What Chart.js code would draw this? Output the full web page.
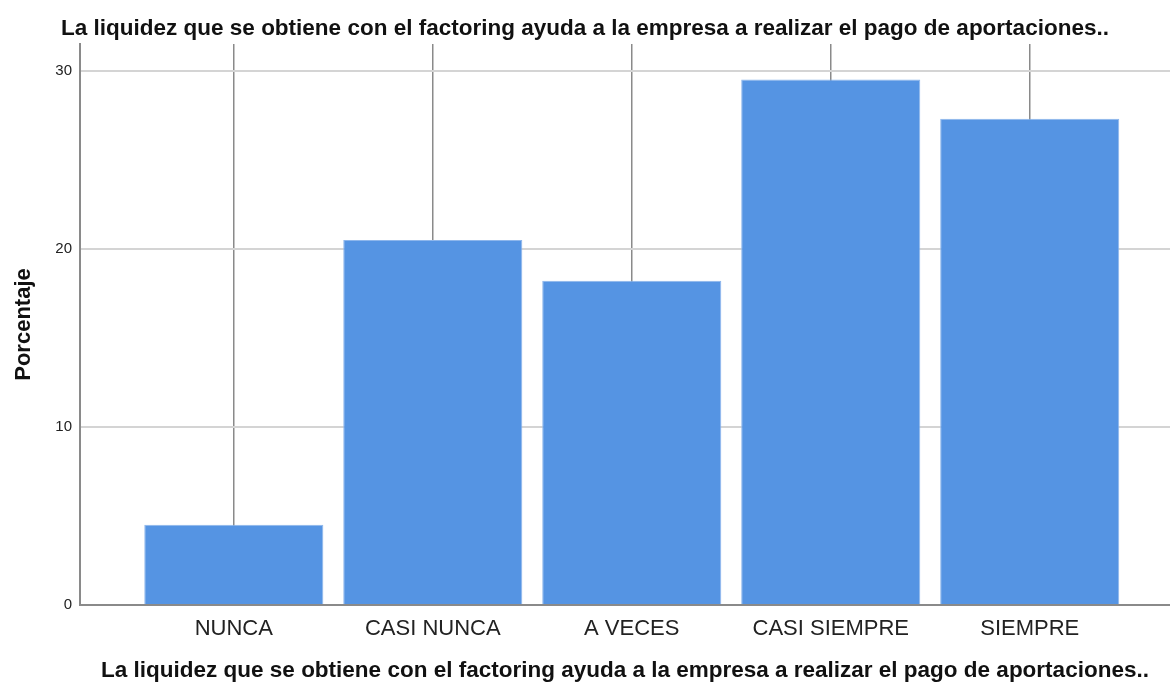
<!DOCTYPE html>
<html>
<head>
<meta charset="utf-8">
<script src="https://cdn.jsdelivr.net/npm/chart.js@4.4.0/dist/chart.umd.min.js"></script>
<style>
  body { margin: 0; background: #fff; }
  #wrap { width: 1170px; height: 684px; }
</style>
</head>
<body>
<div id="wrap"><canvas id="barChart" width="1170" height="684"></canvas></div>
<script>
const categories = ['NUNCA', 'CASI NUNCA', 'A VECES', 'CASI SIEMPRE', 'SIEMPRE'];
const percentages = [4.5, 20.5, 18.2, 29.5, 27.3];
const yTicks = [0, 10, 20, 30];

const titleText = 'La liquidez que se obtiene con el factoring ayuda a la empresa a realizar el pago de aportaciones..';
const fontFam = 'Arial, "Liberation Sans", sans-serif';

// bars on a linear x axis so there is empty room at both ends like the SPSS plot
const points = categories.map((c, i) => ({ x: i, y: percentages[i] }));

var ctx = document.getElementById('barChart').getContext('2d');

const barChart = new Chart(ctx, {
    type: 'bar',
    data: {
        datasets: [{
            label: 'Porcentaje',
            data: points,
            backgroundColor: '#5594e3',
            borderColor: '#8db6ec',
            borderWidth: 1,
            categoryPercentage: 1,
            barPercentage: 0.9,
        }]
    },
    options: {
        responsive: false,
        animation: false,
        layout: { padding: 0 },
        plugins: {
            legend: { display: false },
            tooltip: { enabled: false },
            title: {
                display: true,
                text: titleText,
                color: '#111',
                font: { size: 22.5, weight: 'bold', family: fontFam },
                padding: { top: 15, bottom: 2 }
            }
        },
        scales: {
            x: {
                type: 'linear',
                offset: false,
                min: -0.773,
                max: 4.705,
                grid: {
                    offset: false,
                    color: '#8a8a8a',
                    lineWidth: 1.5,
                    drawTicks: false,
                },
                border: { color: '#8a8a8a', width: 2 },
                ticks: {
                    stepSize: 1,
                    includeBounds: false,
                    autoSkip: false,
                    maxRotation: 0,
                    padding: 11,
                    color: '#222',
                    font: { size: 22, family: fontFam },
                    callback: (v) => categories[v] !== undefined ? categories[v] : ''
                },
                title: {
                    display: true,
                    text: titleText,
                    color: '#111',
                    font: { size: 22.5, weight: 'bold', family: fontFam },
                    padding: { top: 14, bottom: 0 }
                },
                afterFit: (scale) => { scale.height = 79; }
            },
            y: {
                min: 0,
                max: 31.5,
                grid: {
                    color: '#d4d4d4',
                    lineWidth: 2,
                    drawTicks: false,
                },
                border: { color: '#8a8a8a', width: 2 },
                ticks: {
                    stepSize: 10,
                    includeBounds: false,
                    padding: 8,
                    color: '#222',
                    font: { size: 15, family: fontFam },
                    callback: (v) => yTicks.includes(v) ? v : ''
                },
                title: {
                    display: true,
                    text: 'Porcentaje',
                    color: '#111',
                    font: { size: 22, weight: 'bold', family: fontFam },
                    padding: { top: 11, bottom: 0 }
                },
                afterFit: (scale) => { scale.width = 80; }
            }
        }
    }
})
</script>
</body>
</html>
